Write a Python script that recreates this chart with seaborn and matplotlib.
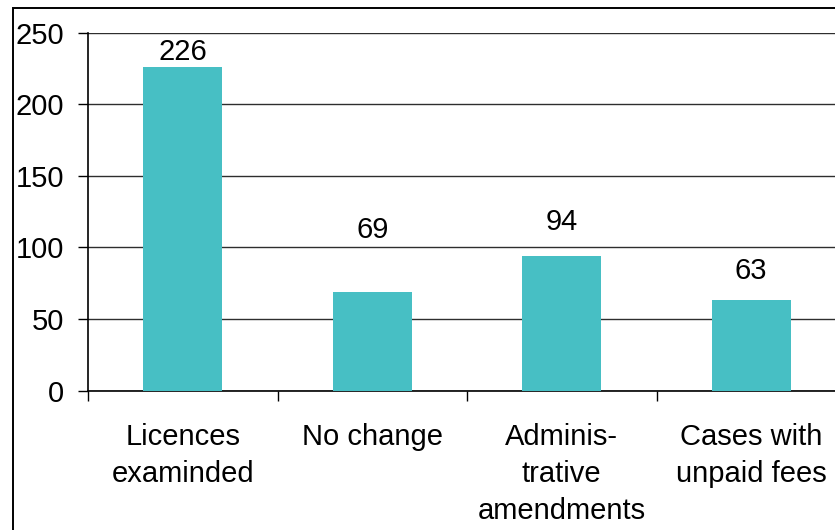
import matplotlib
matplotlib.use("Agg")
import matplotlib.pyplot as plt
from matplotlib.patches import Rectangle
import seaborn as sns
import pandas as pd

# Licence review outcomes
categories = ["Licences\nexaminded", "No change", "Adminis-\ntrative\namendments", "Cases with\nunpaid fees"]
counts = [226, 69, 94, 63]
y_ticks = [0, 50, 100, 150, 200, 250]

# vertical lift (points) of each value label above its bar
label_lift_pt = [5.0, 39.0, 19.0, 15.5]

sns.set_theme(style="white")
plt.rcParams["font.family"] = ["Liberation Sans", "DejaVu Sans"]
FS = 21
plt.rcParams["font.size"] = FS

W, H = 835, 530
fig = plt.figure(figsize=(W / 100, H / 100), dpi=100)
fig.patch.set_facecolor("white")

# axes box in pixels: left edge, right edge (runs past the figure), top, bottom
left_px, right_px, top_px, bottom_px = 88, 846, 32.7, 390.7
ax = fig.add_axes([left_px / W, 1 - bottom_px / H,
                   (right_px - left_px) / W, (bottom_px - top_px) / H])

df = pd.DataFrame({"category": categories, "count": counts})
sns.barplot(data=df, x="category", y="count", color="#47BFC4", saturation=1,
            width=0.417, linewidth=0, edgecolor="none", ax=ax, zorder=3)

ax.set_xlim(-0.5, len(categories) - 0.5)
ax.set_ylim(0, 250)
ax.set_yticks(y_ticks)
ax.set_yticklabels([str(v) for v in y_ticks], fontsize=FS, color="black")
ax.yaxis.grid(True, color="#2e2e2e", linewidth=1.0, zorder=0)
ax.set_axisbelow(True)

# category labels sit between boundary tick marks
ax.set_xticks(range(len(categories)))
ax.set_xticklabels(categories, fontsize=FS, color="black", linespacing=1.42)
ax.set_xticks([i - 0.5 for i in range(len(categories) + 1)], minor=True)
ax.tick_params(axis="x", which="major", length=0, pad=23)
ax.tick_params(axis="x", which="minor", length=7, width=1, color="black", direction="out", bottom=True)
ax.tick_params(axis="y", which="major", length=7, width=1, color="black", direction="out", left=True, pad=10)

ax.set_xlabel("")
ax.set_ylabel("")
for side in ("top", "right"):
    ax.spines[side].set_visible(False)
for side in ("left", "bottom"):
    ax.spines[side].set_color("black")
    ax.spines[side].set_linewidth(1.2)

for i, (v, lift) in enumerate(zip(counts, label_lift_pt)):
    ax.annotate(str(v), xy=(i, v), xytext=(0, lift), textcoords="offset points",
                ha="center", va="baseline", fontsize=FS, color="black", zorder=4)

# outer chart frame (its right and bottom sides fall outside the image)
fig.patches.append(Rectangle((12.5 / W, -0.2), 1.5, 1.2 - 8.3 / H,
                             transform=fig.transFigure, fill=False,
                             edgecolor="black", linewidth=1.4, zorder=10))

fig.savefig("out.png", dpi=100, facecolor="white")
